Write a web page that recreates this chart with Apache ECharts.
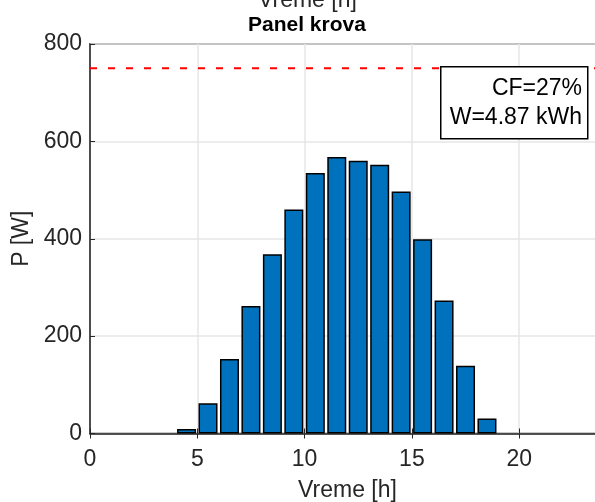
<!DOCTYPE html>
<html>
<head>
<meta charset="utf-8">
<script src="https://cdn.jsdelivr.net/npm/echarts@6/dist/echarts.min.js"></script>
<style>html,body{margin:0;padding:0;background:#fff;}#c{width:595px;height:502px;}</style>
</head>
<body>
<div id="c"></div>
<script>
const hours = [4.5, 5.5, 6.5, 7.5, 8.5, 9.5, 10.5, 11.5, 12.5, 13.5, 14.5, 15.5, 16.5, 17.5, 18.5];
const power = [9, 62, 153, 262, 368, 460, 535, 568, 560, 552, 497, 399, 273, 139, 31];
const ratedPower = 750;
const xTicks = [0, 5, 10, 15, 20];
const yTicks = [0, 200, 400, 600, 800];
const titleText = 'Panel krova';
const xLabel = 'Vreme [h]';
const yLabel = 'P [W]';
const boxLines = ['CF=27%', 'W=4.87 kWh'];

const FONT = '"Liberation Sans", Arial, Helvetica, sans-serif';
const AX = '#262626';
const chart = echarts.init(document.getElementById('c'));
const barData = hours.map((h, i) => [h, power[i]]);

chart.setOption({
  animation: false,
  backgroundColor: '#fff',
  grid: { left: 90, right: -10, top: 44, bottom: 68.5, show: true, borderColor: AX, borderWidth: 1.5,
    containLabel: false, outerBoundsMode: 'none' },
  xAxis: [{
    type: 'value', min: 0, max: 24, interval: 5,
    axisLine: { show: true, onZero: false, lineStyle: { color: AX, width: 1.5 } },
    axisTick: { show: true, inside: true, length: 5, lineStyle: { color: AX } },
    axisLabel: { color: AX, fontSize: 23, fontFamily: FONT, margin: 15,
      formatter: v => xTicks.includes(v) ? String(v) : '' },
    splitLine: { show: true, lineStyle: { color: '#e6e6e6', width: 1.5 } },
    name: xLabel, nameLocation: 'middle', nameGap: 46,
    nameTextStyle: { color: AX, fontSize: 23, fontFamily: FONT }
  }, {
    type: 'value', position: 'top', min: 0, max: 24, interval: 5,
    axisLine: { show: false },
    axisTick: { show: true, inside: true, length: 5, lineStyle: { color: AX } },
    axisLabel: { show: false }, splitLine: { show: false }
  }],
  yAxis: {
    type: 'value', min: 0, max: 800, interval: 200,
    axisLine: { show: true, lineStyle: { color: AX, width: 1.5 } },
    axisTick: { show: true, inside: true, length: 5, lineStyle: { color: AX } },
    axisLabel: { color: AX, fontSize: 23, fontFamily: FONT, margin: 8,
      formatter: v => yTicks.includes(v) ? String(v) : '' },
    splitLine: { show: true, lineStyle: { color: '#e6e6e6', width: 1.5 } },
    name: yLabel, nameLocation: 'middle', nameGap: 50, nameRotate: 90,
    nameTextStyle: { color: AX, fontSize: 23, fontFamily: FONT }
  },
  series: [{
    type: 'bar', data: barData, barWidth: 19,
    itemStyle: { color: '#0072BD', borderColor: '#000', borderWidth: 1.5 }
  }, {
    type: 'line', data: [[0, ratedPower], [24, ratedPower]], symbol: 'none',
    lineStyle: { color: '#ff0000', width: 2, type: [7, 11] }, z: 3
  }],
  graphic: [
    { type: 'text', left: 258, top: -11, style: { text: xLabel, fill: AX, font: '23px ' + FONT }, z: 10 },
    { type: 'text', left: 248, top: 15, style: { text: titleText, fill: '#000', font: 'bold 21px ' + FONT }, z: 10 },
    { type: 'rect', left: 440, top: 66, shape: { width: 147, height: 72 },
      style: { fill: '#fff', stroke: '#000', lineWidth: 1.5 }, z: 20 },
    { type: 'text', right: 13, top: 77, style: { text: boxLines[0], fill: '#000', font: '23px ' + FONT, textAlign: 'right' }, z: 21 },
    { type: 'text', right: 13, top: 106, style: { text: boxLines[1], fill: '#000', font: '23px ' + FONT, textAlign: 'right' }, z: 21 }
  ]
});
</script>
</body>
</html>
